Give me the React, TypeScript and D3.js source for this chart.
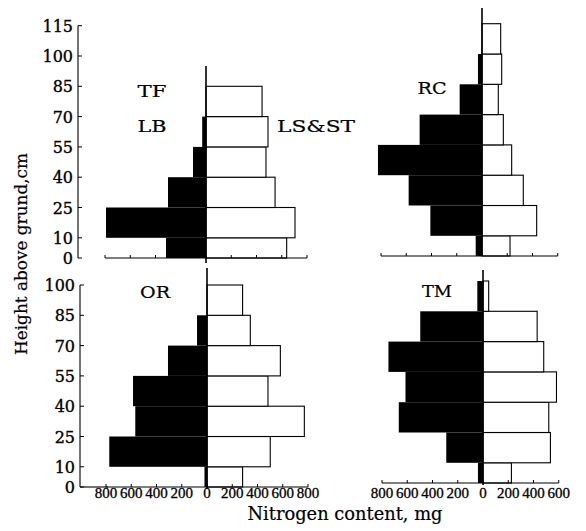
import React from "react";
import * as d3 from "d3";

// Height bins (cm), lower edges -> upper edges
const binEdges = [0, 10, 25, 40, 55, 70, 85, 100, 115];

// Nitrogen content (mg) per height bin, from the ground up
const tfLeafBlade = [317, 792, 301, 103, 30, 0];
const tfStem = [639, 705, 547, 475, 491, 444];
const rcLeafBlade = [50, 409, 581, 824, 494, 177, 32, 0];
const rcStem = [222, 433, 327, 235, 169, 129, 156, 148];
const orLeafBlade = [20, 774, 568, 586, 309, 79, 0];
const orStem = [282, 501, 771, 483, 581, 343, 282];
const tmLeafBlade = [40, 291, 667, 614, 749, 497, 45];
const tmStem = [225, 534, 521, 582, 481, 429, 45];

const yTicksTop = [0, 10, 25, 40, 55, 70, 85, 100, 115];
const yTicksBottom = [0, 10, 25, 40, 55, 70, 85, 100];
const xTicksWide = [-800, -600, -400, -200, 0, 200, 400, 600, 800];
const xTicksNarrow = [-800, -600, -400, -200, 0, 200, 400, 600];

const FONT = "'DejaVu Serif', 'Liberation Serif', serif";
const NUM_FONT = "'Liberation Serif', 'DejaVu Serif', serif";
const PX_PER_UNIT = 2.02;
const HALF = 101; // px for 800 mg

type PanelProps = {
  cx: number;
  y0: number;
  leaf: number[];
  stem: number[];
  xTicks: number[];
  lineTop: number;
  lineBottom: number;
  showXLabels: boolean;
};

function Panel({ cx, y0, leaf, stem, xTicks, lineTop, lineBottom, showXLabels }: PanelProps) {
  const x = d3.scaleLinear().domain([-800, 800]).range([cx - HALF, cx + HALF]);
  const y = d3.scaleLinear().domain([0, 115]).range([y0, y0 - 115 * PX_PER_UNIT]);
  const xMin = x(d3.min(xTicks) as number);
  const xMax = x(d3.max(xTicks) as number);
  return (
    <g>
      {leaf.map((v, i) =>
        v > 0 ? (
          <rect
            key={"l" + i}
            x={x(-v)}
            y={y(binEdges[i + 1])}
            width={x(0) - x(-v)}
            height={y(binEdges[i]) - y(binEdges[i + 1])}
            fill="#000"
          />
        ) : null
      )}
      {stem.map((v, i) => (
        <rect
          key={"s" + i}
          x={x(0)}
          y={y(binEdges[i + 1])}
          width={x(v) - x(0)}
          height={y(binEdges[i]) - y(binEdges[i + 1])}
          fill="#fff"
          stroke="#000"
          strokeWidth={1.1}
        />
      ))}
      <line x1={x(0)} x2={x(0)} y1={lineTop} y2={lineBottom} stroke="#000" strokeWidth={1.6} />
      <line x1={xMin} x2={xMax} y1={y(0)} y2={y(0)} stroke="#000" strokeWidth={1.1} />
      {xTicks.map((t) => (
        <line key={"t" + t} x1={x(t)} x2={x(t)} y1={y(0)} y2={y(0) - 3} stroke="#000" strokeWidth={1} />
      ))}
      {showXLabels &&
        xTicks.map((t) => (
          <text
            key={"tl" + t}
            x={x(t)}
            y={498}
            textAnchor="middle"
            fontFamily={NUM_FONT}
            fontSize={15}
            fill="#000"
            stroke="#000"
            strokeWidth={0.3}
          >
            {Math.abs(t)}
          </text>
        ))}
    </g>
  );
}

function YAxis({ ax, y0, ticks }: { ax: number; y0: number; ticks: number[] }) {
  const y = d3.scaleLinear().domain([0, 115]).range([y0, y0 - 115 * PX_PER_UNIT]);
  const top = y(d3.max(ticks) as number);
  return (
    <g>
      <line x1={ax} x2={ax} y1={top} y2={y0} stroke="#000" strokeWidth={1.1} />
      {ticks.map((t) => (
        <g key={t}>
          <line x1={ax} x2={ax + 4} y1={y(t)} y2={y(t)} stroke="#000" strokeWidth={1} />
          <text
            x={ax - 5}
            y={y(t) + 6}
            textAnchor="end"
            fontFamily={FONT}
            fontSize={16}
            fill="#000"
            stroke="#000"
            strokeWidth={0.35}
          >
            {t}
          </text>
        </g>
      ))}
    </g>
  );
}

function Label({ x, y, text, len }: { x: number; y: number; text: string; len: number }) {
  return (
    <text
      x={x}
      y={y}
      textAnchor="middle"
      fontFamily={FONT}
      fontSize={17}
      fill="#000"
      stroke="#000"
      strokeWidth={0.2}
      textLength={len}
      lengthAdjust="spacingAndGlyphs"
    >
      {text}
    </text>
  );
}

export default function App() {
  return (
    <svg width={586} height={531} style={{ position: "absolute", left: 0, top: 0, background: "#fff" }}>
      <rect x={0} y={0} width={586} height={531} fill="#fff" />
      {/* Top-left: TF */}
      <YAxis ax={78} y0={258} ticks={yTicksTop} />
      <Panel cx={206} y0={258} leaf={tfLeafBlade} stem={tfStem} xTicks={xTicksWide} lineTop={66} lineBottom={263} showXLabels={false} />
      {/* Top-right: RC */}
      <Panel cx={482} y0={256} leaf={rcLeafBlade} stem={rcStem} xTicks={xTicksNarrow} lineTop={8} lineBottom={256} showXLabels={false} />
      {/* Bottom-left: OR */}
      <YAxis ax={80} y0={487} ticks={yTicksBottom} />
      <Panel cx={207} y0={487} leaf={orLeafBlade} stem={orStem} xTicks={xTicksWide} lineTop={268} lineBottom={489} showXLabels={true} />
      <line x1={80} x2={108} y1={487} y2={487} stroke="#000" strokeWidth={1.1} />
      {/* Bottom-right: TM */}
      <Panel cx={483} y0={483} leaf={tmLeafBlade} stem={tmStem} xTicks={xTicksNarrow} lineTop={270} lineBottom={485} showXLabels={true} />

      <Label x={152} y={97} text="TF" len={29} />
      <Label x={152} y={132} text="LB" len={29} />
      <Label x={316} y={132} text="LS&ST" len={78} />
      <Label x={432} y={94} text="RC" len={29} />
      <Label x={155} y={298} text="OR" len={30} />
      <Label x={437} y={297} text="TM" len={30} />

      <text
        x={345}
        y={520}
        textAnchor="middle"
        fontFamily={FONT}
        fontSize={18}
        fill="#000"
        stroke="#000"
        strokeWidth={0.2}
        textLength={195}
        lengthAdjust="spacingAndGlyphs"
      >
        Nitrogen content, mg
      </text>
      <text
        transform="translate(27,254) rotate(-90)"
        x={0}
        y={0}
        textAnchor="middle"
        fontFamily={FONT}
        fontSize={17.5}
        fill="#000"
        stroke="#000"
        strokeWidth={0.2}
        textLength={202}
        lengthAdjust="spacingAndGlyphs"
      >
        Height above grund,cm
      </text>
    </svg>
  );
}
